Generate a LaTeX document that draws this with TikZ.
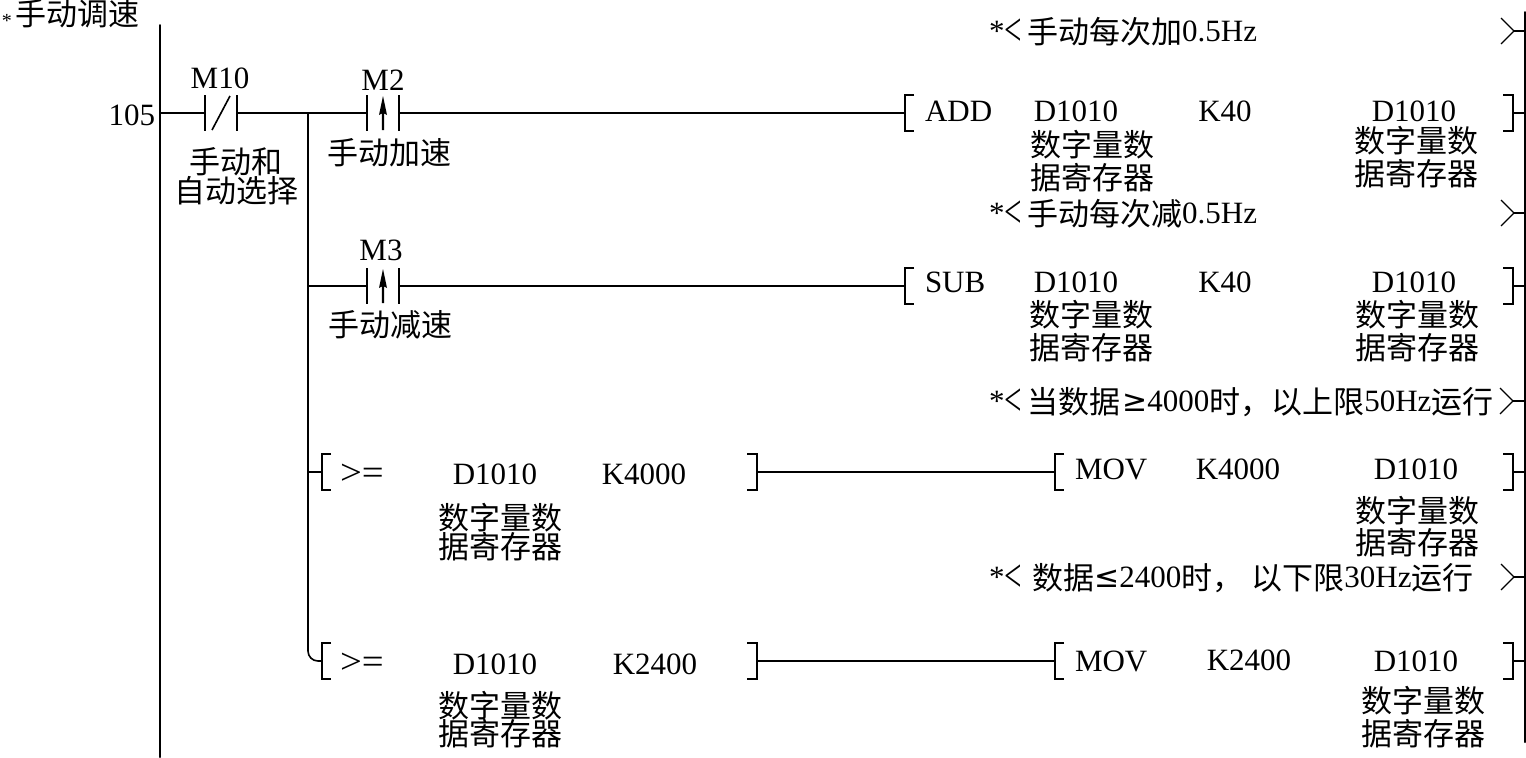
\documentclass[tikz,border=0pt]{standalone}
\usepackage{graphicx}
\usepackage{fontspec}
\setmainfont{Liberation Serif}
\newfontfamily\cjk{Noto Sans CJK SC}
\newfontfamily\symf{DejaVu Sans}
\newcommand{\zh}[1]{\raisebox{-1pt}{\cjk\fontsize{15.5}{18}\selectfont #1}}
\newcommand{\ltb}{\raisebox{-2pt}{\scalebox{1}[1.5]{<}}}
\newcommand{\cmpop}{\scalebox{1.25}[1.15]{>=}}
\tikzset{
  tx/.style={inner sep=0pt,outer sep=0pt,anchor=west,text height=12pt,text depth=2pt,font=\fontsize{15.5}{18}\selectfont},
  txc/.style={tx,anchor=center},
  rail/.style={line width=1pt,line cap=round},
  wire/.style={line width=.8pt},
  thin wire/.style={line width=.6pt},
  contactbox/.style={inner sep=0pt,outer sep=0pt,minimum width=#1,minimum height=18pt},
  instr/.style={inner sep=0pt,outer sep=0pt,minimum width=#1,minimum height=18pt}
}
\begin{document}
\begin{tikzpicture}[x=.5pt,y=-.5pt]
\useasboundingbox (0,0) rectangle (1526,757);
% rails
\coordinate (lt) at (160,25);
\coordinate (lb) at (160,757);
\coordinate (rt) at (1525,12);
\coordinate (rb) at (1525,742);
\draw[rail] (lt) -- (lb);
\draw[rail] (rt) -- (rb);
% title
\node[txc,font=\fontsize{10}{12}\selectfont] (star) at (7,17) {*};
\node[tx] (title) at (16,13) {\zh{手动调速}};
% rung 1
\node[tx,anchor=east] (n105) at (155,115) {105};
\node[txc] (m10) at (220,78) {M10};
\node[contactbox=16pt] (c0) at (221,113) {};
\draw[wire] (c0.north west) -- (c0.south west) (c0.north east) -- (c0.south east);
\draw[wire] (212,130) -- (230,96);
\node[txc] (sel1) at (236,161) {\zh{手动和}};
\node[txc] (sel2) at (236,190) {\zh{自动选择}};
\coordinate (j) at (308,113);
\draw[thin wire] (lt |- c0) -- (c0.west);
\draw[thin wire] (c0.east) -- (j);
% branch
\node[txc] (m2) at (383,80) {M2};
\node[contactbox=16pt] (c2) at (383,113) {};
\draw[wire] (c2.north west) -- (c2.south west) (c2.north east) -- (c2.south east);
\fill (383,96) -- (387,115) -- (384.2,113.5) -- (384.2,130) -- (381.8,130) -- (381.8,113.5) -- (379,115) -- cycle;
\node[txc] (l2) at (389,152) {\zh{手动加速}};
\node[contactbox=16pt] (c3) at (383,286) {};
\draw[wire] (c3.north west) -- (c3.south west) (c3.north east) -- (c3.south east);
\fill (383,269) -- (387,288) -- (384.2,286.5) -- (384.2,303) -- (381.8,303) -- (381.8,286.5) -- (379,288) -- cycle;
\node[txc] (m3) at (381,250) {M3};
\node[txc] (l3) at (390,324) {\zh{手动减速}};
% comments
\node[tx] (cm1) at (989,31) {*\ltb\,\zh{手动每次加}0.5Hz};
\node[tx] (cm2) at (989,213) {*\ltb\,\zh{手动每次减}0.5Hz};
\node[tx] (cm3) at (989,401) {*\ltb\,\zh{当数据}\hspace{1pt}{\symf\fontsize{15}{15}\selectfont ≥}4000\zh{时，以上限}50Hz\zh{运行}};
\node[tx] (cm4) at (989,577) {*\ltb\,\,\zh{数据}{\symf\fontsize{15}{15}\selectfont ≤}2400\zh{时，\hspace{4pt}以下限}30Hz\zh{运行}};
\coordinate (r1) at (1514,31);
\coordinate (r2) at (1514,213);
\coordinate (r3) at (1513,401);
\coordinate (r4) at (1514,577);
\foreach \r in {r1,r2,r3,r4}{
  \draw[thin wire] (\r)+(-13,-13) -- (\r) -- +(-13,13);
  \draw[thin wire] (\r) -- (rt |- \r);
}
% instructions
\node[instr=304pt] (add) at (1209,113) {};
\node[instr=304pt] (sub) at (1209,286) {};
\node[instr=229pt] (mov1) at (1284,472) {};
\node[instr=229pt] (mov2) at (1284,661) {};
\node[instr=217.5pt] (cmp1) at (539.5,472) {};
\node[instr=217.5pt] (cmp2) at (539.5,661) {};
\foreach \b in {add,sub,mov1,mov2,cmp1,cmp2}{
  \draw[wire] (\b.north west)+(9,0) -- (\b.north west) -- (\b.south west) -- +(9,0);
  \draw[wire] (\b.north east)+(-10,0) -- (\b.north east) -- (\b.south east) -- +(-10,0);
}
\draw[wire,rounded corners=5pt] (j) -- (j |- cmp2.west) -- (cmp2.west);
\draw[wire] (j) -- (c2.west);
\draw[wire] (c2.east) -- (add.west);
\draw[wire] (j |- c3.west) -- (c3.west);
\draw[wire] (c3.east) -- (sub.west);
\draw[wire] (j |- cmp1.west) -- (cmp1.west);
\draw[wire] (cmp1.east) -- (mov1.west);
\draw[wire] (cmp2.east) -- (mov2.west);
\foreach \b in {add,sub,mov1,mov2}{\draw[thin wire] (\b.east) -- (rt |- \b.east);}
% ADD row
\node[tx] (a1) at (925,111) {ADD};
\node[txc] (a2) at (1076,111) {D1010};
\node[txc] (a3) at (1225,111) {K40};
\node[txc] (a4) at (1414,111) {D1010};
\node[txc] (a5) at (1092,144) {\zh{数字量数}};
\node[txc] (a6) at (1092,177) {\zh{据寄存器}};
\node[txc] (a7) at (1416,140) {\zh{数字量数}};
\node[txc] (a8) at (1416,173) {\zh{据寄存器}};
% SUB row
\node[tx] (s1) at (925,282) {SUB};
\node[txc] (s2) at (1076,282) {D1010};
\node[txc] (s3) at (1225,282) {K40};
\node[txc] (s4) at (1414,282) {D1010};
\node[txc] (s5) at (1091,314) {\zh{数字量数}};
\node[txc] (s6) at (1091,347) {\zh{据寄存器}};
\node[txc] (s7) at (1417,314) {\zh{数字量数}};
\node[txc] (s8) at (1417,347) {\zh{据寄存器}};
% compare 1
\node[tx] (g1) at (340,474) {\cmpop};
\node[txc] (g2) at (495,474) {D1010};
\node[txc] (g3) at (644,474) {K4000};
\node[txc] (g4) at (500,517) {\zh{数字量数}};
\node[txc] (g5) at (500,546) {\zh{据寄存器}};
\node[tx] (o1) at (1075,469) {MOV};
\node[txc] (o2) at (1238,469) {K4000};
\node[txc] (o3) at (1416,469) {D1010};
\node[txc] (o4) at (1417,510) {\zh{数字量数}};
\node[txc] (o5) at (1417,542) {\zh{据寄存器}};
% compare 2
\node[tx] (h1) at (340,663) {\cmpop};
\node[txc] (h2) at (495,664) {D1010};
\node[txc] (h3) at (655,664) {K2400};
\node[txc] (h4) at (500,705) {\zh{数字量数}};
\node[txc] (h5) at (500,733) {\zh{据寄存器}};
\node[tx] (p1) at (1075,661) {MOV};
\node[txc] (p2) at (1249,660) {K2400};
\node[txc] (p3) at (1416,661) {D1010};
\node[txc] (p4) at (1423,700) {\zh{数字量数}};
\node[txc] (p5) at (1423,733) {\zh{据寄存器}};
\end{tikzpicture}
\end{document}
